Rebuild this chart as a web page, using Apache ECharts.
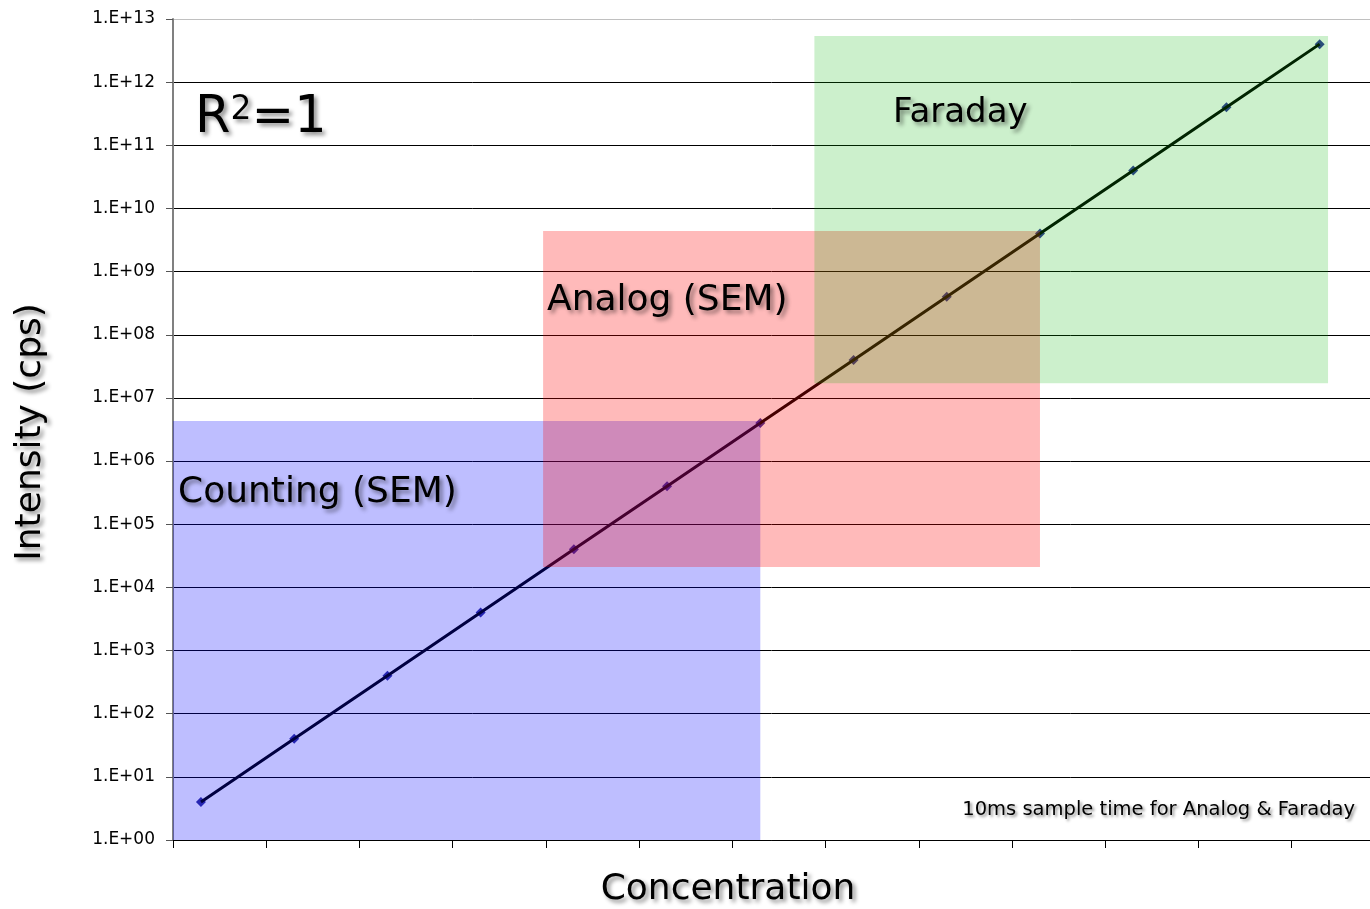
<!DOCTYPE html>
<html>
<head>
    <meta charset="utf-8">
    <title>Intensity vs Concentration</title>
    <script src="https://cdn.jsdelivr.net/npm/echarts@6/dist/echarts.min.js"></script>
    <style>
        html, body { margin: 0; padding: 0; background: #fff; }
    </style>
</head>
<body>
<div id="main" style="width: 1370px;height:909px;"></div>

<script type="text/javascript">
    // data
    var concentration = [0.3, 1.3, 2.3, 3.3, 4.3, 5.3, 6.3, 7.3, 8.3, 9.3, 10.3, 11.3, 12.3];
    var intensity = [4, 40, 400, 4e3, 4e4, 4e5, 4e6, 4e7, 4e8, 4e9, 4e10, 4e11, 4e12];

    var yTickLabels = ['1.E+00', '1.E+01', '1.E+02', '1.E+03', '1.E+04', '1.E+05', '1.E+06',
        '1.E+07', '1.E+08', '1.E+09', '1.E+10', '1.E+11', '1.E+12', '1.E+13'];

    // detector ranges: [x from, x to], [y from, y to]
    var regionNames = ['Counting (SEM)', 'Analog (SEM)', 'Faraday'];
    var regionX = [[0, 6.3], [3.97, 9.3], [6.88, 12.39]];
    var regionY = [[1, 4.3e6], [2.1e4, 4.4e9], [1.7e7, 5.4e12]];

    var regionColors = ['rgba(0,0,255,0.255)', 'rgba(255,0,0,0.27)', 'rgba(0,180,0,0.2)'];
    var font = 'DejaVu Sans';
    var shadow = {
        textShadowColor: 'rgba(0,0,0,0.45)',
        textShadowBlur: 4,
        textShadowOffsetX: 3,
        textShadowOffsetY: 3
    };

    var points = concentration.map(function (c, i) { return [c, intensity[i]]; });
    var regions = regionNames.map(function (n, i) {
        return [regionX[i][0], regionX[i][1], regionY[i][0], regionY[i][1]];
    });

    // split lines: the top one (1.E+13) is light grey
    var gridColors = yTickLabels.map(function (t, i) {
        return i === yTickLabels.length - 1 ? '#c0c0c0' : '#000';
    });

    function bigText(text, x, y, size, extra) {
        var st = Object.assign({
            text: text,
            font: size + 'px "' + font + '"',
            fill: '#000',
            textAlign: 'left',
            textVerticalAlign: 'middle'
        }, shadow, extra || {});
        return { type: 'text', x: x, y: y, z: 100, style: st };
    }

    var myChart = echarts.init(document.getElementById('main'));

    var option = {
        backgroundColor: '#fff',
        animation: false,
        grid: { left: 173, right: 0, top: 19, bottom: 69 },
        xAxis: {
            type: 'value',
            min: 0,
            max: 12.84,
            interval: 1,
            axisLine: { show: true, lineStyle: { color: '#000', width: 1 } },
            axisTick: { show: true, length: 8, inside: false, lineStyle: { color: '#000' } },
            axisLabel: { show: false },
            splitLine: { show: false }
        },
        yAxis: {
            type: 'log',
            logBase: 10,
            min: 1,
            max: 1e13,
            interval: 1,
            splitNumber: 13,
            axisLine: { show: true, lineStyle: { color: '#808080', width: 2 } },
            axisTick: { show: true, length: 7, lineStyle: { color: '#555' } },
            axisLabel: {
                fontFamily: font,
                fontSize: 17,
                color: '#000',
                margin: 18,
                formatter: function (v) {
                    return yTickLabels[Math.round(Math.log10(v))];
                }
            },
            splitLine: { show: true, lineStyle: { color: gridColors, width: 1 } }
        },
        series: [
            {
                name: 'points',
                type: 'scatter',
                data: points,
                symbol: 'diamond',
                symbolSize: 10,
                itemStyle: { color: '#000080' },
                z: 2
            },
            {
                name: 'fit',
                type: 'line',
                data: points,
                showSymbol: false,
                symbol: 'none',
                lineStyle: { color: '#000', width: 3 },
                z: 3
            },
            {
                name: 'ranges',
                type: 'custom',
                data: regions,
                encode: { x: [0, 1], y: [2, 3] },
                z: 5,
                silent: true,
                renderItem: function (params, api) {
                    var p0 = api.coord([api.value(0), api.value(3)]);
                    var p1 = api.coord([api.value(1), api.value(2)]);
                    return {
                        type: 'rect',
                        shape: { x: p0[0], y: p0[1], width: p1[0] - p0[0], height: p1[1] - p0[1] },
                        style: { fill: regionColors[params.dataIndex] }
                    };
                }
            }
        ],
        graphic: [
            {
                type: 'text', x: 195, y: 119, z: 100,
                style: Object.assign({
                    text: '{a|R}{b|2}{a|=1}',
                    fill: '#000',
                    textVerticalAlign: 'middle',
                    rich: {
                        a: { font: '51px "' + font + '"', fill: '#000' },
                        b: { font: '33px "' + font + '"', fill: '#000', verticalAlign: 'top' }
                    }
                }, shadow)
            },
            bigText(regionNames[2], 893, 113, 34),
            bigText(regionNames[1], 547, 301, 36),
            bigText(regionNames[0], 178, 493, 36),
            bigText('10ms sample time for Analog & Faraday', 1355, 810, 19.5,
                { textAlign: 'right', textShadowBlur: 3, textShadowOffsetX: 2, textShadowOffsetY: 2 }),
            bigText('Concentration', 728, 890, 36, { textAlign: 'center' }),
            {
                type: 'text', x: 31, y: 432, rotation: Math.PI / 2, z: 100,
                style: Object.assign({
                    text: 'Intensity (cps)',
                    font: '36px "' + font + '"',
                    fill: '#000',
                    textAlign: 'center',
                    textVerticalAlign: 'middle'
                }, shadow)
            }
        ]
    };

    myChart.setOption(option);
</script>
</body>
</html>
